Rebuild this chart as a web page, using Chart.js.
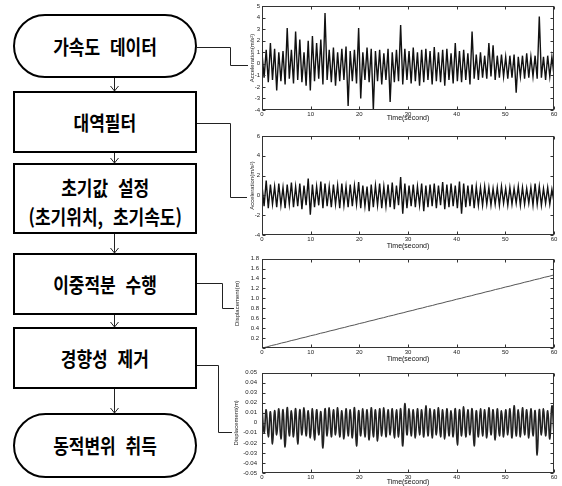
<!DOCTYPE html>
<html lang="ko">
<head>
<meta charset="utf-8">
<title>동적변위 취득 절차</title>
<script src="https://cdn.jsdelivr.net/npm/chart.js@4.4.1/dist/chart.umd.min.js"></script>
<style>
  html, body { margin: 0; padding: 0; background: #fff; }
  #page { position: relative; width: 562px; height: 486px; overflow: hidden; }
  .box {
    position: absolute; left: 13px; width: 184px; box-sizing: border-box;
    border: 2px solid #000; background: #fff;
    display: flex; align-items: center; justify-content: center;
    font-family: "Noto Sans CJK KR", sans-serif; font-weight: 700; font-size: 20px;
    color: #000; text-align: center;
  }
  .box span { display: inline-block; transform: scaleX(0.85); word-spacing: 6px; line-height: 29px; white-space: nowrap; }
  .round { border-radius: 33px; }
  canvas { position: absolute; }
  svg { position: absolute; left: 0; top: 0; }
</style>
</head>
<body>
<div id="page">
  <div class="box round" style="top:14px;height:64px"><span>가속도 데이터</span></div>
  <div class="box" style="top:91px;height:62px"><span>대역필터</span></div>
  <div class="box" style="top:163px;height:71px"><span style="position:relative;top:3px">초기값 설정<br>(초기위치, 초기속도)</span></div>
  <div class="box" style="top:253px;height:62px"><span>이중적분 수행</span></div>
  <div class="box" style="top:327px;height:62px"><span>경향성 제거</span></div>
  <div class="box round" style="top:413px;height:65px"><span>동적변위 취득</span></div>

  <svg width="562" height="486" fill="none" stroke="#222" stroke-width="1">
    <!-- 화살표 -->
    <path d="M114.5 78 V91 M110.5 86 L114.5 91 L118.5 86"/>
    <path d="M114.5 153 V163 M110.5 158 L114.5 163 L118.5 158"/>
    <path d="M114.5 234 V253 M110.5 248 L114.5 253 L118.5 248"/>
    <path d="M114.5 315 V327 M110.5 322 L114.5 327 L118.5 322"/>
    <path d="M114.5 389 V413 M110.5 408 L114.5 413 L118.5 408"/>
    <!-- 그래프 연결선 -->
    <path d="M197 47.5 H230.5 V65.5 H248"/>
    <path d="M197 123.5 H230.5 V197.5 H247"/>
    <path d="M197 283.5 H222.5 V308.5 H234"/>
    <path d="M197 365.5 H218.5 V432.5 H232"/>
  </svg>

  <canvas id="accRaw" width="316" height="124" style="left:246px;top:0px"></canvas>
  <canvas id="accBand" width="316" height="121" style="left:246px;top:130px"></canvas>
  <canvas id="dispRaw" width="328" height="112" style="left:234px;top:252px"></canvas>
  <canvas id="dispDetr" width="329" height="122" style="left:233px;top:364px"></canvas>
</div>

<script>
// 가속도 원신호: 주기별 최대/최소 (m/s^2)
const rawPeaks = [
  0.9, 1.2, 1.8, 1.3, 1.0, 1.1, 3.1, 1.2, 2.8, 2.1,
  1.0, 2.0, 2.4, 1.8, 2.1, 4.4, 1.2, 1.4, 1.0, 1.3,
  1.5, 1.1, 1.2, 3.1, 1.0, 1.4, 1.3, 1.1, 1.2, 0.9,
  1.3, 1.0, 1.2, 3.35, 1.3, 1.1, 1.4, 1.0, 1.2, 1.3,
  1.1, 1.45, 1.0, 1.2, 1.3, 0.9, 1.8, 1.1, 1.2, 0.9,
  2.8, 0.8, 1.0, 0.7, 1.8, 1.6, 0.7, 0.8, 0.6, 0.7,
  0.8, 0.6, 0.7, 0.9, 0.6, 0.7, 4.1, 0.6, 0.7, 0.6
];
const rawTroughs = [
  -1.2, -1.6, -1.4, -2.3, -1.5, -1.8, -1.3, -1.7, -1.4, -1.6,
  -1.9, -2.3, -1.5, -1.3, -1.8, -1.4, -1.6, -1.9, -1.5, -1.4,
  -3.65, -1.5, -1.7, -3.0, -1.4, -1.6, -4.0, -1.5, -1.8, -1.4,
  -3.3, -1.6, -1.5, -1.8, -1.4, -1.7, -1.5, -1.9, -1.6, -1.4,
  -1.8, -1.5, -1.6, -1.9, -1.4, -1.7, -1.5, -1.6, -1.4, -1.8,
  -1.3, -1.4, -1.2, -1.3, -1.1, -1.4, -1.2, -1.1, -1.3, -1.2,
  -2.5, -1.1, -1.3, -1.2, -1.1, -1.3, -1.2, -1.4, -1.1, -1.0
];

// 대역필터 후 가속도
const bandPeaks = [
  1.0, 1.5, 1.1, 0.9, 1.2, 0.8, 1.1, 1.3, 0.9, 1.2,
  1.0, 1.7, 1.1, 0.9, 1.4, 1.2, 0.9, 1.1, 1.0, 1.2,
  0.9, 1.1, 1.0, 1.35, 1.0, 0.9, 1.1, 1.0, 1.2, 0.9,
  1.1, 1.3, 1.0, 1.85, 1.2, 1.0, 1.1, 0.9, 1.2, 1.0,
  1.1, 1.2, 1.0, 1.35, 1.1, 1.2, 1.0, 1.4, 1.2, 1.0,
  1.1, 0.9, 0.8, 0.9, 0.8, 0.7, 0.8, 0.9, 0.7, 0.8,
  0.7, 0.9, 0.8, 0.7, 0.8, 1.2, 0.9, 0.7, 0.8, 0.6
];
const bandTroughs = [
  -1.1, -1.3, -0.9, -1.2, -1.0, -1.3, -0.9, -1.2, -1.1, -1.4,
  -1.0, -1.95, -1.2, -1.0, -1.3, -1.1, -1.2, -0.9, -1.3, -1.0,
  -1.2, -1.1, -0.9, -1.3, -1.1, -1.6, -1.2, -1.0, -1.3, -1.1,
  -1.2, -1.4, -1.0, -1.85, -1.3, -1.1, -1.2, -1.0, -1.6, -1.2,
  -1.1, -1.3, -1.0, -1.4, -1.2, -1.1, -1.3, -1.85, -1.2, -1.1,
  -1.3, -1.0, -1.0, -0.9, -1.0, -0.9, -1.0, -0.8, -1.0, -0.9,
  -0.8, -1.0, -0.9, -0.8, -1.0, -0.9, -1.0, -0.8, -0.9, -0.7
];

// 이중적분 결과 변위 (1초 간격, m)
const dispRamp = [
  0.000, 0.022, 0.051, 0.072, 0.100, 0.121, 0.149, 0.170, 0.198, 0.219,
  0.247, 0.268, 0.296, 0.317, 0.345, 0.366, 0.394, 0.415, 0.443, 0.464,
  0.492, 0.513, 0.541, 0.562, 0.590, 0.611, 0.639, 0.660, 0.688, 0.709,
  0.737, 0.758, 0.786, 0.807, 0.835, 0.856, 0.884, 0.905, 0.933, 0.954,
  0.982, 1.003, 1.031, 1.052, 1.080, 1.101, 1.129, 1.150, 1.178, 1.199,
  1.227, 1.248, 1.276, 1.297, 1.325, 1.346, 1.374, 1.395, 1.423, 1.444,
  1.472
];

// 경향성 제거 후 동적변위: 주기별 최대/최소 (m)
const detrPeaks = [
  0.015, 0.013, 0.011, 0.012, 0.014, 0.013, 0.015, 0.012, 0.014, 0.013,
  0.015, 0.012, 0.014, 0.013, 0.011, 0.014, 0.015, 0.013, 0.015, 0.012,
  0.014, 0.013, 0.015, 0.012, 0.014, 0.013, 0.015, 0.013, 0.014, 0.015,
  0.013, 0.014, 0.013, 0.014, 0.019, 0.014, 0.013, 0.014, 0.013, 0.017,
  0.014, 0.013, 0.015, 0.013, 0.014, 0.012, 0.014, 0.013, 0.016, 0.013,
  0.014, 0.012, 0.014, 0.013, 0.015, 0.013, 0.014, 0.012, 0.013, 0.014,
  0.017, 0.013, 0.015, 0.013, 0.014, 0.012, 0.013, 0.014, 0.012, 0.017
];
const detrTroughs = [
  -0.010, -0.014, -0.021, -0.012, -0.016, -0.024, -0.013, -0.014, -0.021, -0.012,
  -0.013, -0.015, -0.017, -0.012, -0.025, -0.013, -0.014, -0.012, -0.014, -0.016,
  -0.013, -0.015, -0.023, -0.013, -0.014, -0.017, -0.014, -0.018, -0.013, -0.014,
  -0.012, -0.015, -0.014, -0.023, -0.012, -0.013, -0.015, -0.012, -0.014, -0.013,
  -0.015, -0.012, -0.014, -0.016, -0.013, -0.014, -0.022, -0.013, -0.014, -0.012,
  -0.023, -0.014, -0.013, -0.015, -0.012, -0.017, -0.013, -0.014, -0.012, -0.015,
  -0.013, -0.014, -0.012, -0.015, -0.013, -0.032, -0.012, -0.013, -0.016, -0.012
];

const timeMax = 60;

// 최대/최소를 번갈아 0~60초에 배치
function alternate(peaks, troughs) {
  const n = peaks.length * 2;
  const dt = timeMax / (n - 1);
  const pts = [];
  peaks.forEach((p, k) => {
    pts.push({ x: 2 * k * dt, y: p });
    pts.push({ x: (2 * k + 1) * dt, y: troughs[k] });
  });
  return pts;
}

// MATLAB 스타일 테두리 + 안쪽 눈금
const matlabBox = {
  id: "matlabBox",
  afterDraw(chart) {
    const { ctx, chartArea: a, scales } = chart;
    const L = Math.round(a.left) + 0.5, R = Math.round(a.right) - 0.5;
    const T = Math.round(a.top) + 0.5, B = Math.round(a.bottom) - 0.5;
    ctx.save();
    ctx.strokeStyle = "#333";
    ctx.lineWidth = 1;
    ctx.strokeRect(L, T, R - L, B - T);
    ctx.beginPath();
    scales.x.ticks.forEach(t => {
      const px = Math.round(scales.x.getPixelForValue(t.value)) + 0.5;
      ctx.moveTo(px, B); ctx.lineTo(px, B - 3);
      ctx.moveTo(px, T); ctx.lineTo(px, T + 3);
    });
    scales.y.ticks.forEach(t => {
      const py = Math.round(scales.y.getPixelForValue(t.value)) + 0.5;
      ctx.moveTo(L, py); ctx.lineTo(L + 3, py);
      ctx.moveTo(R, py); ctx.lineTo(R - 3, py);
    });
    ctx.stroke();
    ctx.restore();
  }
};

const tickFont = { family: "Liberation Sans, Arial, sans-serif", size: 6 };

function plot(id, points, opt) {
  new Chart(document.getElementById(id), {
    type: "line",
    data: {
      datasets: [{
        data: points,
        borderColor: opt.color,
        borderWidth: opt.width,
        pointRadius: 0,
        tension: opt.smooth ? 0.45 : 0,
        fill: false
      }]
    },
    options: {
      responsive: false,
      animation: false,
      events: [],
      layout: { padding: { top: 6, right: 8, left: 0, bottom: 0 } },
      plugins: { legend: { display: false }, tooltip: { enabled: false } },
      scales: {
        x: {
          type: "linear",
          min: 0,
          max: timeMax,
          grid: { display: false, drawTicks: false },
          border: { display: false },
          ticks: { stepSize: 10, padding: 1, color: "#222", font: tickFont, maxRotation: 0, autoSkip: false },
          title: {
            display: true, text: "Time(second)", color: "#111",
            font: { family: "Liberation Sans, Arial, sans-serif", size: 7 },
            padding: { top: 0, bottom: opt.xTitlePad }
          },
          afterFit: s => { s.height = opt.xHeight; }
        },
        y: {
          min: opt.yMin,
          max: opt.yMax,
          grid: { display: false, drawTicks: false },
          border: { display: false },
          ticks: {
            stepSize: opt.yStep, padding: opt.yPad, color: "#222", font: tickFont, autoSkip: false,
            callback: function (v, i, t) {
              if (opt.hideZero && v === 0) return "";
              return Chart.Ticks.formatters.numeric.call(this, v, i, t);
            }
          },
          title: {
            display: true, text: opt.yTitle, color: "#222",
            font: { family: "Liberation Sans, Arial, sans-serif", size: 6 },
            padding: { top: opt.yTitlePad, bottom: 0 }
          },
          afterFit: s => { s.width = opt.yWidth; }
        }
      }
    },
    plugins: [matlabBox]
  });
}

plot("accRaw", alternate(rawPeaks, rawTroughs), {
  color: "#111", width: 1.4, yMin: -4, yMax: 5, yStep: 1,
  yTitle: "Acceleration(m/s²)", yWidth: 16, yPad: 2, yTitlePad: 3,
  xHeight: 14, xTitlePad: 2
});

plot("accBand", alternate(bandPeaks, bandTroughs), {
  color: "#111", width: 1.4, yMin: -4, yMax: 6, yStep: 2,
  yTitle: "Acceleration(m/s²)", yWidth: 16, yPad: 2, yTitlePad: 3,
  xHeight: 16, xTitlePad: 1
});

plot("dispRaw", dispRamp.map((v, i) => ({ x: i, y: v })), {
  color: "#555", width: 1, yMin: 0, yMax: 1.8, yStep: 0.2, hideZero: true,
  yTitle: "Displacement(m)", yWidth: 28, yPad: 3, yTitlePad: 0,
  xHeight: 16, xTitlePad: 1
});

plot("dispDetr", alternate(detrPeaks, detrTroughs), {
  color: "#222", width: 1.6, smooth: true, yMin: -0.05, yMax: 0.05, yStep: 0.01,
  yTitle: "Displacement(m)", yWidth: 29, yPad: 5, yTitlePad: 0,
  xHeight: 13, xTitlePad: 0
});
</script>
</body>
</html>
